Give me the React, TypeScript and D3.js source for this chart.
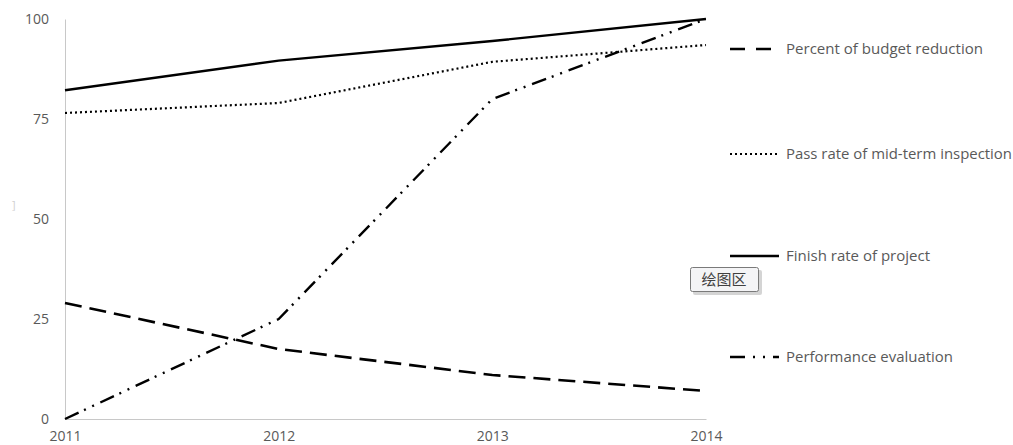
import React, { useEffect, useRef } from 'react';
import * as d3 from 'd3';

const years = [2011, 2012, 2013, 2014];
const yTicks = [0, 25, 50, 75, 100];

const budgetReduction = [29, 17.5, 11, 7];
const passRate = [76.5, 79, 89.3, 93.5];
const finishRate = [82.2, 89.6, 94.5, 100];
const performanceEval = [0, 25, 80, 100];

const seriesNames = [
    'Percent of budget reduction',
    'Pass rate of mid-term inspection',
    'Finish rate of project',
    'Performance evaluation',
];
const seriesDash = ['17,8', '2,3', null, '15,6,2,7,2,7'];
const seriesWidth = [2.6, 2.2, 2.4, 2.4];
const legendDash = ['15,11', '2,3', null, '15,8,2,8,2,8'];
// widths the legend texts take up in the picture (narrow Calibri-like face)
const legendTextWidth = [197, 226, 144, 167];

const width = 1013;
const height = 445;

const App = () => {
    const svgRef = useRef(null);

    const margin = { top: 19, left: 65 };
    const plotWidth = 641;
    const plotHeight = 400;

    useEffect(() => {
        const svg = d3.select(svgRef.current);
        svg.selectAll('*').remove();

        const xScale = d3.scalePoint()
            .domain(years.map(String))
            .range([0, plotWidth]);

        const yScale = d3.scaleLinear()
            .domain([0, 100])
            .range([plotHeight, 0]);

        const g = svg.append('g')
            .attr('transform', `translate(${margin.left}, ${margin.top})`);

        // axes: plain grey lines, no tick marks
        const yAxis = d3.axisLeft(yScale).tickValues(yTicks).tickSize(0).tickPadding(16);
        g.append('g').call(yAxis)
            .call(s => s.select('.domain').attr('stroke', '#c8c8c8'))
            .call(s => s.selectAll('text')
                .attr('fill', '#595959')
                .attr('font-size', 14)
                .attr('font-family', 'Open Sans, sans-serif'));

        const xAxis = d3.axisBottom(xScale).tickSize(0).tickPadding(12);
        g.append('g')
            .attr('transform', `translate(0, ${plotHeight})`)
            .call(xAxis)
            .call(s => s.select('.domain').attr('stroke', '#c8c8c8'))
            .call(s => s.selectAll('text')
                .attr('fill', '#595959')
                .attr('font-size', 14)
                .attr('font-family', 'Open Sans, sans-serif'));

        const data = [budgetReduction, passRate, finishRate, performanceEval];

        const line = d3.line()
            .x((d, i) => xScale(String(years[i])))
            .y(d => yScale(d));

        data.forEach((values, i) => {
            g.append('path')
                .datum(values)
                .attr('fill', 'none')
                .attr('stroke', '#000')
                .attr('stroke-width', seriesWidth[i])
                .attr('stroke-dasharray', seriesDash[i])
                .attr('d', line);
        });

        // legend
        const legendY = [49, 154, 256, 357];
        const legend = svg.append('g');
        seriesNames.forEach((name, i) => {
            legend.append('line')
                .attr('x1', 730).attr('x2', 779)
                .attr('y1', legendY[i]).attr('y2', legendY[i])
                .attr('stroke', '#000')
                .attr('stroke-width', seriesWidth[i])
                .attr('stroke-dasharray', legendDash[i]);
            legend.append('text')
                .attr('x', 786)
                .attr('y', legendY[i])
                .attr('dy', '0.35em')
                .attr('fill', '#595959')
                .attr('font-size', 14)
                .attr('font-family', 'Open Sans, sans-serif')
                .attr('textLength', legendTextWidth[i])
                .attr('lengthAdjust', 'spacingAndGlyphs')
                .text(name);
        });

        // stray mark on the left edge
        svg.append('text')
            .attr('x', 12).attr('y', 209)
            .attr('fill', '#d0d0d0')
            .attr('font-size', 11)
            .attr('font-family', 'Open Sans, sans-serif')
            .text(']');

        // "plot area" tooltip
        const tip = svg.append('g').attr('transform', 'translate(690, 267)');
        tip.append('rect')
            .attr('x', 3).attr('y', 3)
            .attr('width', 69).attr('height', 25)
            .attr('rx', 2)
            .attr('fill', '#b8b8b8')
            .attr('opacity', 0.6);
        tip.append('rect')
            .attr('x', 0.5).attr('y', 0.5)
            .attr('width', 68).attr('height', 24)
            .attr('rx', 2)
            .attr('fill', '#f4f4f6')
            .attr('stroke', '#7a7a7a');
        tip.append('text')
            .attr('x', 34).attr('y', 13)
            .attr('dy', '0.35em')
            .attr('text-anchor', 'middle')
            .attr('fill', '#404040')
            .attr('font-size', 15)
            .attr('font-family', 'Noto Sans CJK SC, sans-serif')
            .text('绘图区');
    }, []);

    return (
        <svg ref={svgRef} width={width} height={height}
            style={{ position: 'absolute', left: 0, top: 0, background: '#fff' }} />
    );
};

export default App;
